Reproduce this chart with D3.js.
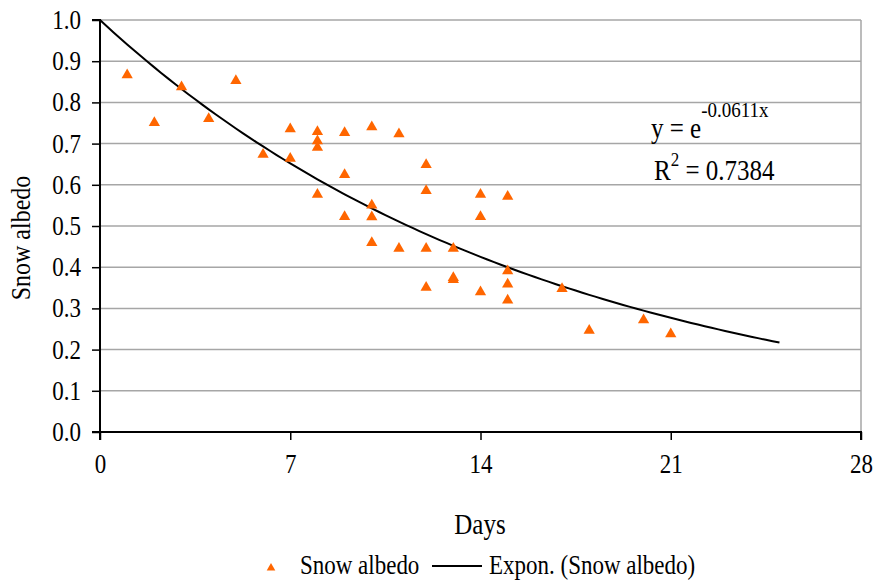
<!DOCTYPE html>
<html>
<head>
<meta charset="utf-8">
<script src="https://cdn.jsdelivr.net/npm/d3@7"></script>
<style>
  html, body { margin: 0; padding: 0; background: #fff; }
  svg text { font-family: "Liberation Serif", "DejaVu Serif", "Times New Roman", Times, serif !important; fill: #000;
             transform-box: fill-box; transform-origin: center; transform: scaleY(1.15); }
</style>
</head>
<body>
<svg id="chart" width="879" height="580"></svg>
<script>
// ---- Data ----
const days = [1, 2, 3, 4, 5, 6, 7, 7, 8, 8, 8, 8, 9, 9, 9, 10, 10, 10, 10, 11, 11,
              12, 12, 12, 12, 13, 13, 13, 14, 14, 14, 15, 15, 15, 15, 17, 18, 20, 21];
const albedo = [0.869, 0.753, 0.840, 0.763, 0.855, 0.676, 0.738, 0.666, 0.731, 0.709, 0.693, 0.579,
                0.729, 0.627, 0.525, 0.743, 0.553, 0.524, 0.462, 0.726, 0.448,
                0.651, 0.588, 0.448, 0.353, 0.448, 0.372, 0.377, 0.579, 0.525, 0.342,
                0.574, 0.393, 0.361, 0.322, 0.350, 0.249, 0.274, 0.240];
const xTicks = [0, 7, 14, 21, 28];
const yTicks = [0, 0.1, 0.2, 0.3, 0.4, 0.5, 0.6, 0.7, 0.8, 0.9, 1.0];
const trendCoef = -0.0611;      // y = e^(-0.0611x)
const trendEnd = 25;
const rSquared = "0.7384";

// ---- Layout ----
const svg = d3.select("#chart");
const pLeft = 100, pRight = 861, pTop = 20, pBottom = 432;
const x = d3.scaleLinear().domain([0, 28]).range([pLeft, pRight]);
const y = d3.scaleLinear().domain([0, 1]).range([pBottom, pTop]);

// gridlines
svg.append("g").selectAll("line").data(yTicks.filter(d => d > 0)).join("line")
  .attr("x1", pLeft).attr("x2", pRight)
  .attr("y1", d => y(d)).attr("y2", d => y(d))
  .attr("stroke", "#a6a6a6").attr("stroke-width", 1.5);
// right border
svg.append("line").attr("x1", pRight).attr("x2", pRight).attr("y1", pTop).attr("y2", pBottom)
  .attr("stroke", "#a6a6a6").attr("stroke-width", 1.5);

// axes
const yAxis = d3.axisLeft(y).tickValues(yTicks).tickFormat(d3.format(".1f")).tickSize(8).tickPadding(11);
const gy = svg.append("g").attr("transform", `translate(${pLeft},0)`).call(yAxis);
const xAxis = d3.axisBottom(x).tickValues(xTicks).tickFormat(d3.format("d")).tickSize(8).tickPadding(10);
const gx = svg.append("g").attr("transform", `translate(0,${pBottom})`).call(xAxis);
[gy, gx].forEach(g => {
  g.attr("font-family", null).attr("font-size", null);
  g.select(".domain").attr("stroke", "#000").attr("stroke-width", 2);
  g.selectAll(".tick line").attr("stroke", "#000").attr("stroke-width", 1.5);
  g.selectAll(".tick text").attr("fill", "#000").style("font-size", "23px");
});
gy.select(".domain").attr("d", `M-8,${pTop}H0V${pBottom}H-8`);
gx.select(".domain").attr("d", `M${pLeft},8V0H${pRight}V8`);
gx.selectAll(".tick text").attr("dy", "0.95em");

// trendline
const trendX = d3.range(0, trendEnd + 0.0001, 0.25);
const line = d3.line().x(d => x(d)).y(d => y(Math.exp(trendCoef * d)));
svg.append("path").datum(trendX).attr("d", line)
  .attr("fill", "none").attr("stroke", "#000").attr("stroke-width", 2);

// points
const tri = d3.symbol().type(d3.symbolTriangle).size(55);
svg.append("g").selectAll("path").data(days.map((d, i) => [d, albedo[i]])).join("path")
  .attr("d", tri)
  .attr("transform", d => `translate(${x(d[0])},${y(d[1]) + 1})`)
  .attr("fill", "#ff6600");

// axis titles
svg.append("text").attr("x", 480).attr("y", 533).attr("text-anchor", "middle")
  .style("font-size", "25px").text("Days");
svg.append("g").attr("transform", "translate(29,238) rotate(-90)")
  .append("text").attr("text-anchor", "middle")
  .style("font-size", "24px").text("Snow albedo");

// equation
const eq = svg.append("text").attr("x", 651).attr("y", 136).style("font-size", "25px");
eq.append("tspan").text("y = e");
eq.append("tspan").attr("dy", -18).style("font-size", "19px").text(trendCoef.toString() + "x");
const r2 = svg.append("text").attr("x", 654).attr("y", 178).style("font-size", "25px");
r2.append("tspan").text("R");
r2.append("tspan").attr("dy", -12).style("font-size", "17px").text("2");
r2.append("tspan").attr("dy", 12).text(" = " + rSquared);

// legend
const lg = svg.append("g");
lg.append("path").attr("d", d3.symbol().type(d3.symbolTriangle).size(32))
  .attr("transform", "translate(271,568)").attr("fill", "#ff6600");
lg.append("text").attr("x", 300).attr("y", 573).style("font-size", "23px").text("Snow albedo");
lg.append("line").attr("x1", 432).attr("x2", 482).attr("y1", 566).attr("y2", 566)
  .attr("stroke", "#000").attr("stroke-width", 2);
lg.append("text").attr("x", 489).attr("y", 573).style("font-size", "23px").text("Expon. (Snow albedo)");
</script>
</body>
</html>
